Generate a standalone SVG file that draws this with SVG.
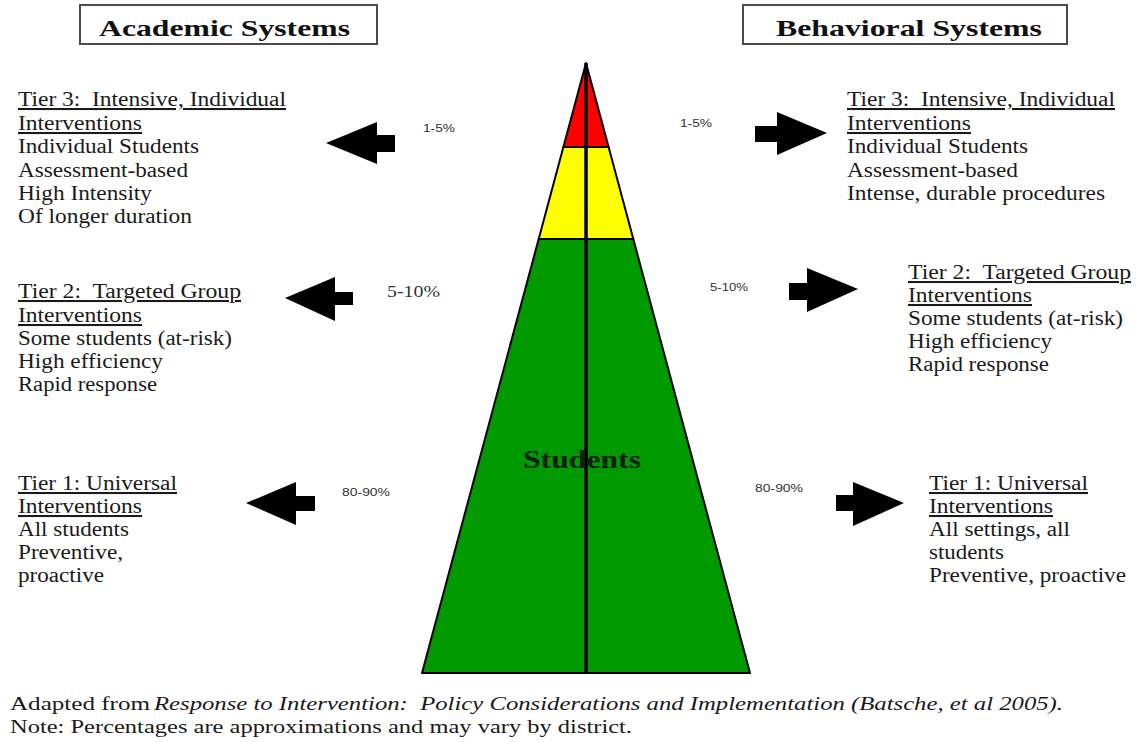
<svg xmlns="http://www.w3.org/2000/svg" width="1143" height="742" viewBox="0 0 1143 742">
<style>
.t{font-family:"Liberation Serif","Times New Roman",serif;font-size:20.5px;fill:#1a1a1a}
.u{text-decoration:underline}
.h{font-family:"Liberation Serif","Times New Roman",serif;font-size:23px;font-weight:bold;fill:#111}
.box{fill:#fff;stroke:#4a4a4a;stroke-width:2}
.pct{font-family:"Liberation Sans",Arial,sans-serif;font-size:10px;fill:#333}
.pct2{font-family:"Liberation Serif","Times New Roman",serif;font-size:16px;fill:#333}
.band{stroke:#000;stroke-width:2;stroke-linejoin:round}
.arrow{fill:#000}
.foot{font-family:"Liberation Serif","Times New Roman",serif;font-size:19.5px;fill:#1a1a1a}
</style>
<rect width="1143" height="742" fill="#fff"/>

<g id="title-academic">
<rect class="box" x="80" y="5" width="297" height="39"/>
<text class="h" x="99" y="36" textLength="251" lengthAdjust="spacingAndGlyphs">Academic Systems</text>
</g>
<g id="title-behavioral">
<rect class="box" x="743" y="5" width="324" height="39"/>
<text class="h" x="776" y="36" textLength="266" lengthAdjust="spacingAndGlyphs">Behavioral Systems</text>
</g>

<g id="pyramid">
<polygon class="band" fill="#009a00" points="538.7,239 633.3,239 750,673 422,673"/>
<polygon class="band" fill="#ffff00" points="563.4,147 608.6,147 633.3,239 538.7,239"/>
<polygon class="band" fill="#ff0000" points="586,63 608.6,147 563.4,147"/>
<line x1="586" y1="63" x2="586" y2="673" stroke="#000" stroke-width="3.5"/>
<text x="582" y="468" text-anchor="middle" font-family="Liberation Serif,'Times New Roman',serif" font-size="25" font-weight="bold" fill="#102010" textLength="118" lengthAdjust="spacingAndGlyphs">Students</text>
</g>

<g id="academic-tier3">
<text class="t u" x="18" y="106" textLength="268" lengthAdjust="spacingAndGlyphs" xml:space="preserve">Tier 3:  Intensive, Individual</text>
<text class="t u" x="18" y="130" textLength="124" lengthAdjust="spacingAndGlyphs">Interventions</text>
<text class="t" x="18" y="153" textLength="181" lengthAdjust="spacingAndGlyphs">Individual Students</text>
<text class="t" x="18" y="177" textLength="170" lengthAdjust="spacingAndGlyphs">Assessment-based</text>
<text class="t" x="18" y="200" textLength="134" lengthAdjust="spacingAndGlyphs">High Intensity</text>
<text class="t" x="18" y="223" textLength="174" lengthAdjust="spacingAndGlyphs">Of longer duration</text>
</g>
<g id="academic-tier2">
<text class="t u" x="18" y="298" textLength="223" lengthAdjust="spacingAndGlyphs" xml:space="preserve">Tier 2:  Targeted Group</text>
<text class="t u" x="18" y="322" textLength="124" lengthAdjust="spacingAndGlyphs">Interventions</text>
<text class="t" x="18" y="345" textLength="214" lengthAdjust="spacingAndGlyphs">Some students (at-risk)</text>
<text class="t" x="18" y="368" textLength="145" lengthAdjust="spacingAndGlyphs">High efficiency</text>
<text class="t" x="18" y="391" textLength="139" lengthAdjust="spacingAndGlyphs">Rapid response</text>
</g>
<g id="academic-tier1">
<text class="t u" x="18" y="490" textLength="159" lengthAdjust="spacingAndGlyphs">Tier 1: Universal</text>
<text class="t u" x="18" y="513" textLength="124" lengthAdjust="spacingAndGlyphs">Interventions</text>
<text class="t" x="18" y="536" textLength="111" lengthAdjust="spacingAndGlyphs">All students</text>
<text class="t" x="18" y="559" textLength="105" lengthAdjust="spacingAndGlyphs">Preventive,</text>
<text class="t" x="18" y="582" textLength="86" lengthAdjust="spacingAndGlyphs">proactive</text>
</g>

<g id="behavioral-tier3">
<text class="t u" x="847" y="106" textLength="268" lengthAdjust="spacingAndGlyphs" xml:space="preserve">Tier 3:  Intensive, Individual</text>
<text class="t u" x="847" y="130" textLength="124" lengthAdjust="spacingAndGlyphs">Interventions</text>
<text class="t" x="847" y="153" textLength="181" lengthAdjust="spacingAndGlyphs">Individual Students</text>
<text class="t" x="847" y="177" textLength="171" lengthAdjust="spacingAndGlyphs">Assessment-based</text>
<text class="t" x="847" y="200" textLength="258" lengthAdjust="spacingAndGlyphs">Intense, durable procedures</text>
</g>
<g id="behavioral-tier2">
<text class="t u" x="908" y="279" textLength="223" lengthAdjust="spacingAndGlyphs" xml:space="preserve">Tier 2:  Targeted Group</text>
<text class="t u" x="908" y="302" textLength="124" lengthAdjust="spacingAndGlyphs">Interventions</text>
<text class="t" x="908" y="325" textLength="215" lengthAdjust="spacingAndGlyphs">Some students (at-risk)</text>
<text class="t" x="908" y="348" textLength="144" lengthAdjust="spacingAndGlyphs">High efficiency</text>
<text class="t" x="908" y="371" textLength="141" lengthAdjust="spacingAndGlyphs">Rapid response</text>
</g>
<g id="behavioral-tier1">
<text class="t u" x="929" y="490" textLength="159" lengthAdjust="spacingAndGlyphs">Tier 1: Universal</text>
<text class="t u" x="929" y="513" textLength="124" lengthAdjust="spacingAndGlyphs">Interventions</text>
<text class="t" x="929" y="536" textLength="141" lengthAdjust="spacingAndGlyphs">All settings, all</text>
<text class="t" x="929" y="559" textLength="75" lengthAdjust="spacingAndGlyphs">students</text>
<text class="t" x="929" y="582" textLength="197" lengthAdjust="spacingAndGlyphs">Preventive, proactive</text>
</g>

<g id="percent-labels">
<text class="pct" x="423" y="132" textLength="32" lengthAdjust="spacingAndGlyphs">1-5%</text>
<text class="pct" x="680" y="127" textLength="32" lengthAdjust="spacingAndGlyphs">1-5%</text>
<text class="pct2" x="387" y="297" textLength="53" lengthAdjust="spacingAndGlyphs">5-10%</text>
<text class="pct" x="710" y="291" textLength="38" lengthAdjust="spacingAndGlyphs">5-10%</text>
<text class="pct" x="342" y="496" textLength="48" lengthAdjust="spacingAndGlyphs">80-90%</text>
<text class="pct" x="755" y="492" textLength="48" lengthAdjust="spacingAndGlyphs">80-90%</text>
</g>

<g id="connectors">
<polygon class="arrow" points="326,143 377,122 377,135 395,135 395,152 377,152 377,164"/>
<polygon class="arrow" points="827,133 777,112 777,126 755,126 755,142 777,142 777,155"/>
<polygon class="arrow" points="285,298 335,277 335,292 353,292 353,305 335,305 335,321"/>
<polygon class="arrow" points="858,289 807,268 807,283 789,283 789,300 807,300 807,312"/>
<polygon class="arrow" points="246,503 296,482 296,496 315,496 315,511 296,511 296,525"/>
<polygon class="arrow" points="904,503 853,482 853,495 836,495 836,511 853,511 853,526"/>
</g>

<g id="footer">
<text class="foot" x="10" y="710" textLength="140" lengthAdjust="spacingAndGlyphs">Adapted from</text>
<text class="foot" x="154" y="710" font-style="italic" textLength="909" lengthAdjust="spacingAndGlyphs" xml:space="preserve">Response to Intervention:  Policy Considerations and Implementation (Batsche, et al 2005).</text>
<text class="foot" x="10" y="733" textLength="622" lengthAdjust="spacingAndGlyphs">Note: Percentages are approximations and may vary by district.</text>
</g>
</svg>
